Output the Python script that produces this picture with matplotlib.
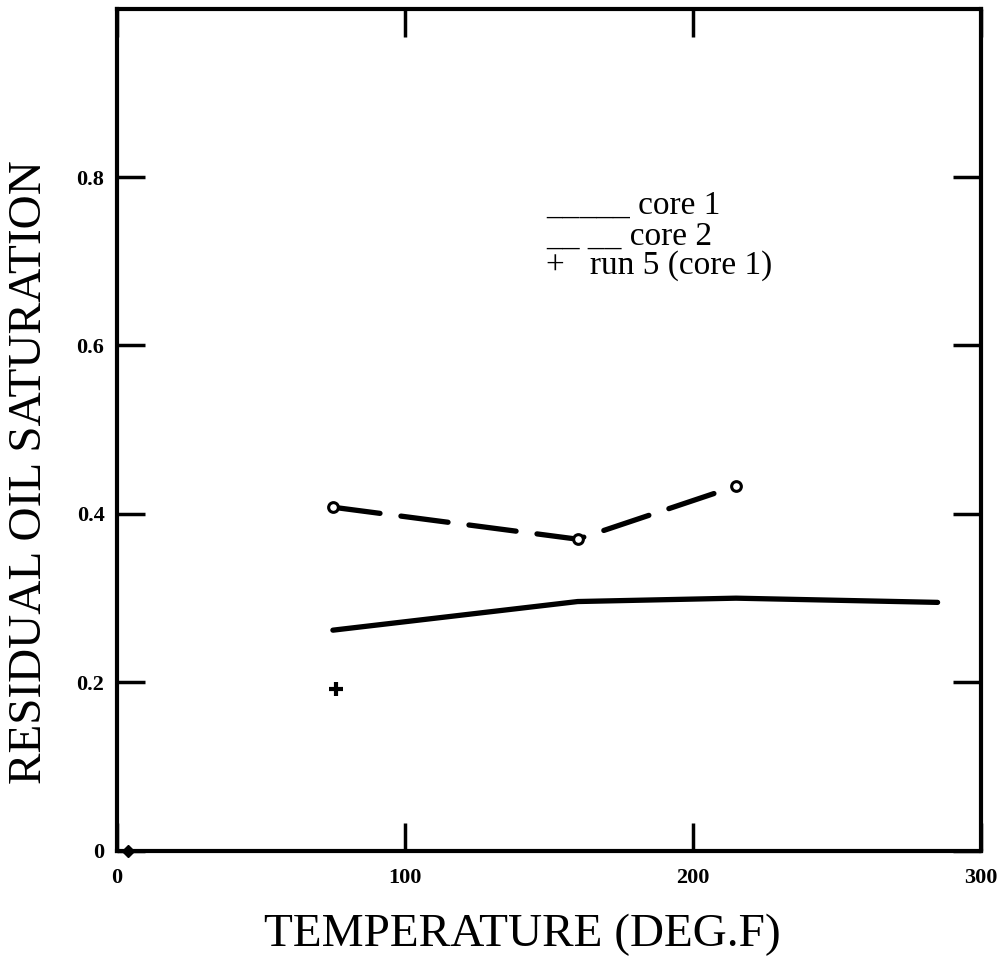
import numpy as np
import matplotlib
matplotlib.use('Agg')
import matplotlib.pyplot as plt

# data
core1_temp = [75, 160, 215, 285]
core1_sor = [0.262, 0.296, 0.300, 0.295]
core2_temp = [75, 160, 215]
core2_sor = [0.408, 0.370, 0.433]
run5_temp = [76]
run5_sor = [0.192]
origin_temp = [4]
origin_sor = [0.0]

xticks = [0, 100, 200, 300]
yticks = [0, 0.2, 0.4, 0.6, 0.8]
ytick_labels = ['0', '0.2', '0.4', '0.6', '0.8']

serif = 'Liberation Serif'

fig = plt.figure(figsize=(10.08, 9.56), dpi=100)
ax = fig.add_axes([0.116, 0.110, 0.857, 0.881])

ax.plot(core1_temp, core1_sor, '-', color='black', lw=3.8, solid_capstyle='round')
ax.plot(core2_temp, core2_sor, color='black', lw=3.8, dashes=(9, 4),
        dash_capstyle='round')
ax.plot(core2_temp, core2_sor, 'o', ms=7, mfc='white', mec='black', mew=2.2)
ax.plot(run5_temp, run5_sor, '+', color='black', ms=10, mew=3)
ax.plot(origin_temp, origin_sor, 'D', color='black', ms=6, clip_on=False)

ax.set_xlim(0, 300)
ax.set_ylim(0, 1.0)
ax.set_xticks(xticks)
ax.set_yticks(yticks)
ax.set_yticklabels(ytick_labels)
ax.tick_params(direction='in', length=20, width=2.5, top=True, right=True,
               labelsize=16)
ax.tick_params(axis='x', pad=12)
ax.tick_params(axis='y', pad=9)
for lab in ax.get_xticklabels() + ax.get_yticklabels():
    lab.set_fontweight('bold')
    lab.set_family(serif)
for sp in ax.spines.values():
    sp.set_linewidth(3)

fig.text(0.518, 0.022, 'TEMPERATURE (DEG.F)', fontsize=34, family=serif,
         ha='center', va='center')
fig.text(0.030, 0.506, 'RESIDUAL OIL SATURATION', fontsize=34, family=serif,
         ha='center', va='center', rotation=90)

# legend typed as text, like the original
ax.text(0.497, 0.757, '_____ core 1', transform=ax.transAxes, fontsize=24,
        family=serif)
ax.text(0.497, 0.720, '__ __ core 2', transform=ax.transAxes, fontsize=24,
        family=serif)
ax.text(0.497, 0.685, '+   run 5 (core 1)', transform=ax.transAxes, fontsize=24,
        family=serif)

fig.savefig('out.png', dpi=100)
